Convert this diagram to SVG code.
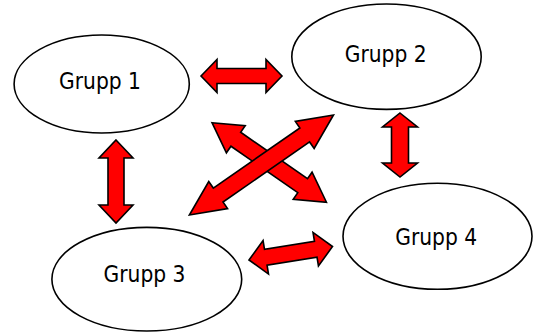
<svg xmlns="http://www.w3.org/2000/svg" width="534" height="332" viewBox="0 0 534 332">
  <style>
    .node ellipse { fill: #ffffff; stroke: #000000; stroke-width: 1.6; }
    .node text { font-family: "DejaVu Sans Condensed", "DejaVu Sans", Verdana, sans-serif; font-size: 22.5px; fill: #000000; text-anchor: middle; }
    .link { fill: #ff0000; stroke: #000000; stroke-width: 1.6; stroke-linejoin: miter; }
  </style>
  <rect width="534" height="332" fill="#ffffff"/>

  <!-- double-headed block arrows; each path starts at one tip and runs along +x -->
  <g id="connectors">
    <path class="link" transform="translate(201,76)" d="M0,0 L16,-16.5 L16,-7.5 L65,-7.5 L65,-16.5 L81,0 L65,16.5 L65,7.5 L16,7.5 L16,16.5 Z"/>
    <path class="link" transform="translate(116,140) rotate(90)" d="M0,0 L18,-17 L18,-8 L65,-8 L65,-17 L83,0 L65,17 L65,8 L18,8 L18,17 Z"/>
    <path class="link" transform="translate(400,113) rotate(90)" d="M0,0 L14,-17.5 L14,-8.5 L50,-8.5 L50,-17.5 L64,0 L50,17.5 L50,8.5 L14,8.5 L14,17.5 Z"/>
    <path class="link" transform="translate(249,260) rotate(-9.18)" d="M0,0 L17,-17 L17,-8 L67.6,-8 L67.6,-17 L84.6,0 L67.6,17 L67.6,8 L17,8 L17,17 Z"/>
    <path class="link" transform="translate(212,122.7) rotate(34.81)" d="M0,0 L29,-16.5 L29,-8.5 L110.4,-8.5 L110.4,-16.5 L139.4,0 L110.4,16.5 L110.4,8.5 L29,8.5 L29,16.5 Z"/>
    <path class="link" transform="translate(189.4,215) rotate(-34.76)" d="M0,0 L35,-16.5 L35,-8.5 L140.4,-8.5 L140.4,-16.5 L175.4,0 L140.4,16.5 L140.4,8.5 L35,8.5 L35,16.5 Z"/>
  </g>

  <g id="grupp1" class="node">
    <ellipse cx="101.7" cy="84" rx="87.6" ry="49"/>
    <text x="100" y="88.5">Grupp 1</text>
  </g>
  <g id="grupp2" class="node">
    <ellipse cx="386.5" cy="56.7" rx="94.7" ry="52.7"/>
    <text x="385.7" y="62">Grupp 2</text>
  </g>
  <g id="grupp3" class="node">
    <ellipse cx="146.8" cy="279.2" rx="94.9" ry="51.8"/>
    <text x="144.5" y="282">Grupp 3</text>
  </g>
  <g id="grupp4" class="node">
    <ellipse cx="437.5" cy="236.3" rx="94.5" ry="53"/>
    <text x="436.2" y="245">Grupp 4</text>
  </g>
</svg>
